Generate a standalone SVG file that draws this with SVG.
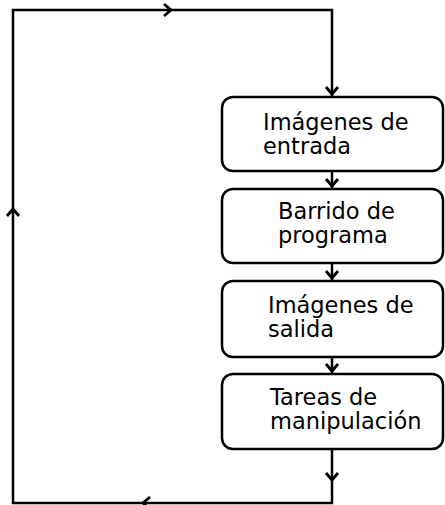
<svg xmlns="http://www.w3.org/2000/svg" width="445" height="505" viewBox="0 0 445 505">
<style>
.box{fill:#fff;stroke:#000;stroke-width:2.5}
.t{font-family:"DejaVu Sans",sans-serif;font-size:22.5px;fill:#000}
.c{fill:none;stroke:#000;stroke-width:2.5}
.ah{fill:none;stroke:#000;stroke-width:2.8;stroke-linejoin:miter}
</style>
<rect width="445" height="505" fill="#fff"/>
<g id="connectors">
<path class="c" d="M332 449 V503 H13 V10 H332 V96"/>
<path class="c" d="M332 171 V188"/>
<path class="c" d="M332 263 V280"/>
<path class="c" d="M332 357 V373"/>
<path class="ah" d="M164 4 L171 10 L164 16"/>
<path class="ah" d="M326 87 L332 94 L338 87"/>
<path class="ah" d="M326 179 L332 186 L338 179"/>
<path class="ah" d="M326 271 L332 278 L338 271"/>
<path class="ah" d="M326 364 L332 371 L338 364"/>
<path class="ah" d="M326 473 L332 480 L338 473"/>
<path class="ah" d="M150 497 L143 503 L150 509"/>
<path class="ah" d="M7 216 L13 209 L19 216"/>
</g>
<g id="n1">
<rect class="box" x="222" y="97" width="221" height="74" rx="11"/>
<text class="t" x="263" y="130">Imágenes de</text>
<text class="t" x="263" y="154">entrada</text>
</g>
<g id="n2">
<rect class="box" x="222" y="189" width="221" height="74" rx="11"/>
<text class="t" x="278" y="219">Barrido de</text>
<text class="t" x="278" y="243">programa</text>
</g>
<g id="n3">
<rect class="box" x="222" y="281" width="221" height="76" rx="11"/>
<text class="t" x="268" y="313">Imágenes de</text>
<text class="t" x="268" y="337">salida</text>
</g>
<g id="n4">
<rect class="box" x="222" y="374" width="221" height="75" rx="11"/>
<text class="t" x="270" y="405">Tareas de</text>
<text class="t" x="270" y="429">manipulación</text>
</g>
</svg>
